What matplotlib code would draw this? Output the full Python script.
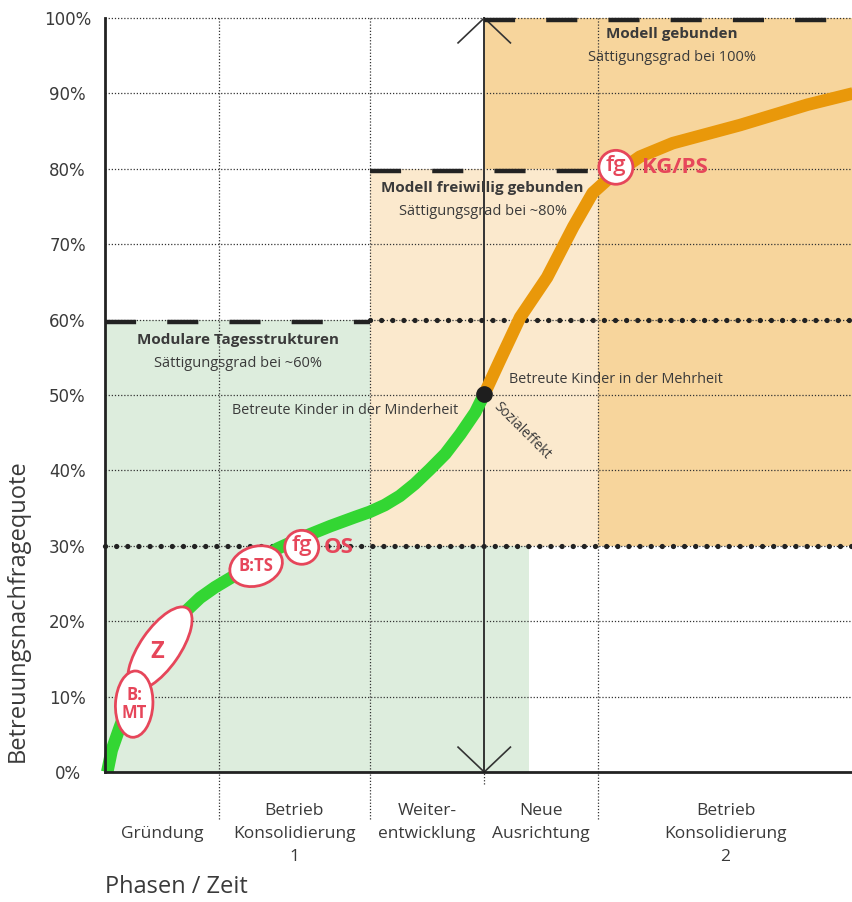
import numpy as np
import matplotlib.pyplot as plt
from matplotlib.patches import Ellipse, Rectangle

plt.rcParams['font.family'] = ['Open Sans', 'DejaVu Sans']

# phases on the time axis (0..100)
phase_bounds = [0, 15.2, 35.4, 50.7, 65.9, 100]
phase_labels = ["\nGründung", "Betrieb\nKonsolidierung\n1", "Weiter-\nentwicklung",
                "Neue\nAusrichtung", "Betrieb\nKonsolidierung\n2"]
y_ticks = [0, 10, 20, 30, 40, 50, 60, 70, 80, 90, 100]

# demand curve
green_x = [0.3, 0.9, 2.0, 3.3, 5.3, 7.4, 9.4, 11.0, 12.7, 14.7, 17.4, 20.7, 23.0,
           26.1, 30.1, 33.4, 35.4, 37.4, 39.4, 41.4, 43.4, 45.5, 47.5, 49.5, 50.7]
green_y = [0, 2.9, 6.0, 9.5, 13.5, 16.8, 19.6, 21.5, 23.1, 24.5, 26.1, 27.9, 29.6,
           31.0, 32.6, 33.8, 34.5, 35.4, 36.6, 38.2, 40.1, 42.2, 44.8, 47.7, 50.1]
orange_x = [50.7, 52.8, 55.5, 59.1, 62.6, 65.2, 67.1, 68.9, 71.5, 75.9, 84.9, 93.9, 100]
orange_y = [50.1, 54.6, 60.3, 65.6, 72.3, 76.8, 78.5, 79.8, 81.6, 83.4, 85.8, 88.5, 90.0]

# shaded zones: x0, x1, y0, y1, colour
GREEN_BG, LIGHT_BG, DARK_BG = '#ddeddd', '#fbe9cd', '#f7d59c'
zones = [(0, 35.4, 0, 60, GREEN_BG), (35.4, 56.7, 0, 30, GREEN_BG),
         (35.4, 65.9, 30, 80, LIGHT_BG), (50.7, 100, 80, 100, DARK_BG),
         (65.9, 100, 30, 80, DARK_BG)]

# saturation levels (dashed) and thresholds (big dots)
sat_levels = [60, 80, 100]
sat_ranges = [(0, 35.4), (35.4, 65.9), (50.7, 100)]
dot_levels = [30, 60]
dot_ranges = [(0, 100), (35.4, 100)]

RED = '#e6465a'
TXT = '#3a3a3a'

fig = plt.figure(figsize=(8.53, 9.02), dpi=100)
ax = fig.add_axes([105/853, 1 - 772/902, 748/853, 754/902])
ax.set_xlim(0, 100)
ax.set_ylim(0, 100)

for x0, x1, y0, y1, c in zones:
    ax.add_patch(Rectangle((x0, y0), x1 - x0, y1 - y0, facecolor=c, edgecolor='none', zorder=0))

# fine dotted grid
for v in y_ticks[1:]:
    ax.plot([0, 100], [v, v], color='#333333', lw=0.9, ls=(0, (1, 1.5)), zorder=1, clip_on=False)
for b in [phase_bounds[1], phase_bounds[2], phase_bounds[4]]:
    ax.plot([b, b], [-6.2, 100], color='#333333', lw=0.9, ls=(0, (1, 1.5)), zorder=1, clip_on=False)
mid = phase_bounds[3]
ax.plot([mid, mid], [-1.6, 0], color='#333333', lw=0.9, ls=(0, (1, 1.5)), zorder=1, clip_on=False)
ax.plot([mid, mid], [0, 100], color='#333333', lw=1.4, zorder=2, clip_on=False)
# arrow heads on the middle line
ax.plot([mid - 3.5, mid, mid + 3.5], [96.7, 100, 96.7], color='#333333', lw=1.2, zorder=2, clip_on=False)
ax.plot([mid - 3.5, mid, mid + 3.5], [3.3, 0, 3.3], color='#333333', lw=1.2, zorder=2, clip_on=False)

for lvl, (x0, x1) in zip(sat_levels, sat_ranges):
    ax.plot([x0, x1], [lvl - 0.3, lvl - 0.3], color='#222222', lw=3.2, dashes=(7, 7),
            dash_capstyle='butt', zorder=3, clip_on=False)
for lvl, (x0, x1) in zip(dot_levels, dot_ranges):
    ax.plot([x0, x1], [lvl, lvl], color='#222222', lw=3.8, dashes=(0.01, 2.1),
            dash_capstyle='round', zorder=3, clip_on=False)

ax.plot(green_x, green_y, color='#33d633', lw=9, solid_capstyle='butt',
        solid_joinstyle='round', zorder=4, clip_on=False)
ax.plot(orange_x, orange_y, color='#e9980a', lw=9, solid_capstyle='butt',
        solid_joinstyle='round', zorder=4, clip_on=False)
ax.plot([orange_x[0]], [orange_y[0]], 'o', color='#1e1e1e', ms=11, zorder=5)

# zone texts
ax.text(75.8, 97.9, "Modell gebunden", ha='center', va='center', fontsize=11, fontweight='bold', color=TXT)
ax.text(75.8, 94.7, "Sättigungsgrad bei 100%", ha='center', va='center', fontsize=10.5, color=TXT)
ax.text(50.5, 77.5, "Modell freiwillig gebunden", ha='center', va='center', fontsize=11, fontweight='bold', color=TXT)
ax.text(50.5, 74.3, "Sättigungsgrad bei ~80%", ha='center', va='center', fontsize=10.5, color=TXT)
ax.text(17.8, 57.3, "Modulare Tagesstrukturen", ha='center', va='center', fontsize=11, fontweight='bold', color=TXT)
ax.text(17.8, 54.2, "Sättigungsgrad bei ~60%", ha='center', va='center', fontsize=10.5, color=TXT)
ax.text(32.1, 48.0, "Betreute Kinder in der Minderheit", ha='center', va='center', fontsize=10.4, color=TXT)
ax.text(68.3, 52.0, "Betreute Kinder in der Mehrheit", ha='center', va='center', fontsize=10.4, color=TXT)
ax.text(55.7, 45.2, "Sozialeffekt", ha='center', va='center', fontsize=10, color=TXT, rotation=-45,
        rotation_mode='anchor')

# red markers on the curve
ax.add_patch(Ellipse((7.35, 16.4), 12.9, 5.3, angle=55, facecolor='white', edgecolor=RED, lw=2, zorder=6))
ax.text(7.0, 15.9, "Z", ha='center', va='center', fontsize=17, fontweight='bold', color=RED, zorder=7)
ax.add_patch(Ellipse((3.9, 9.0), 5.0, 8.8, angle=-3, facecolor='white', edgecolor=RED, lw=2, zorder=8))
ax.text(3.9, 9.0, "B:\nMT", ha='center', va='center', fontsize=12, fontweight='bold', color=RED,
        linespacing=1.0, zorder=9)
ax.add_patch(Ellipse((20.2, 27.3), 7.2, 5.2, angle=18, facecolor='white', edgecolor=RED, lw=2, zorder=6))
ax.text(20.2, 27.3, "B:TS", ha='center', va='center', fontsize=12, fontweight='bold', color=RED, zorder=7)
for cx, cy, lab, lx in [(26.3, 29.8, "OS", 29.2), (68.3, 80.2, "KG/PS", 71.8)]:
    ax.add_patch(Ellipse((cx, cy), 4.55, 4.5, facecolor='white', edgecolor=RED, lw=2, zorder=6))
    ax.text(cx, cy + 0.2, "fg", ha='center', va='center', fontsize=16, fontweight='semibold',
            color=RED, zorder=7)
    ax.text(lx, cy, lab, ha='left', va='center', fontsize=16, fontweight='bold', color=RED, zorder=7)

# axes styling
for s in ['top', 'right']:
    ax.spines[s].set_visible(False)
for s in ['left', 'bottom']:
    ax.spines[s].set_linewidth(2)
    ax.spines[s].set_color('#222222')
    ax.spines[s].set_zorder(10)

ax.set_yticks(y_ticks)
ax.set_yticklabels([f"{v}%" for v in y_ticks], ha='center', fontsize=12,
                   fontfamily=['DejaVu Sans'], color=TXT)
ax.tick_params(axis='y', length=0, pad=27)

mids = [(a + b) / 2 for a, b in zip(phase_bounds[:-1], phase_bounds[1:])]
ax.set_xticks(mids)
ax.set_xticklabels(phase_labels, fontsize=12.5, color=TXT, linespacing=1.6)
ax.tick_params(axis='x', length=0, pad=22)

fig.text(18/853, 1 - 611/902, "Betreuungsnachfragequote", rotation=90, ha='center', va='center',
         fontsize=17, color=TXT)
fig.text(105/853, 1 - 887/902, "Phasen / Zeit", ha='left', va='center', fontsize=17, color=TXT)

fig.savefig('out.png', dpi=100)
plt.close(fig)
